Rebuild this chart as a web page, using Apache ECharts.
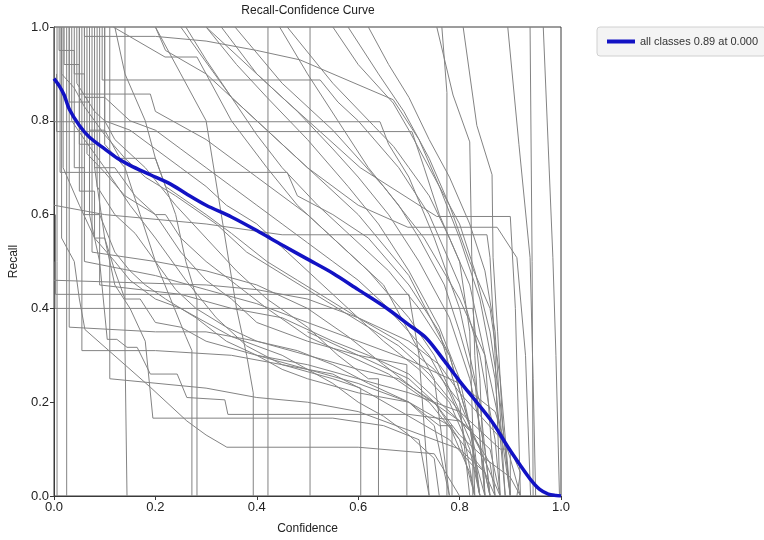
<!DOCTYPE html>
<html><head><meta charset="utf-8">
<script src="https://cdn.jsdelivr.net/npm/echarts@6/dist/echarts.min.js"></script>
<style>html,body{margin:0;padding:0;background:#fff}#c{width:764px;height:540px}</style>
</head><body><div id="c"></div>
<script>
const xTicks = [0, 0.2, 0.4, 0.6, 0.8, 1.0];
const yTicks = [0, 0.2, 0.4, 0.6, 0.8, 1.0];
const allLabel = 'all classes 0.89 at 0.000';
const allClasses = [[0,0.89],[0.01,0.875],[0.02,0.855],[0.03,0.825],[0.05,0.79],[0.07,0.765],[0.1,0.74],[0.125,0.72],[0.15,0.705],[0.19,0.685],[0.23,0.665],[0.26,0.645],[0.3,0.62],[0.35,0.595],[0.4,0.566],[0.45,0.535],[0.5,0.505],[0.55,0.475],[0.6,0.44],[0.65,0.405],[0.7,0.365],[0.735,0.336],[0.77,0.288],[0.8,0.245],[0.835,0.198],[0.866,0.155],[0.895,0.105],[0.92,0.065],[0.94,0.035],[0.958,0.014],[0.975,0.004],[0.99,0.001],[1.0,0.0]];

// per-class curves (confidence, recall)
const c01 = [[0.755,1],[0.787,0.855],[0.79,0.855],[0.82,0.755],[0.824,0.51],[0.83,0.3],[0.84,0.12],[0.85,0]];
const c02 = [[0.765,1],[0.775,0.86],[0.775,0]];
const c03 = [[0.807,1],[0.834,0.79],[0.864,0.685],[0.866,0.508],[0.875,0.35],[0.885,0.15],[0.9,0]];
const c04 = [[0.895,1],[0.917,0.75],[0.939,0.508],[0.945,0.25],[0.95,0]];
const c05 = [[0.939,1],[0.943,0.5],[0.945,0]];
const c06 = [[0.965,1],[0.984,0.508],[0.99,0.3],[0.997,0]];
const c07 = [[0.006,1],[0.006,0.5],[0.006,0]];
const c08 = [[0.025,1],[0.025,0]];
const c09 = [[0.01,1],[0.01,0.95],[0.04,0.95],[0.04,0.9],[0.06,0.9],[0.06,0.85],[0.1,0.85],[0.1,0.8],[0.15,0.78],[0.2,0.74],[0.25,0.7],[0.3,0.66],[0.34,0.62],[0.4,0.58],[0.46,0.52],[0.52,0.46],[0.58,0.4],[0.65,0.33],[0.72,0.27],[0.78,0.2],[0.82,0.1],[0.84,0]];
const c10 = [[0.02,1],[0.02,0.92],[0.05,0.92],[0.05,0.75],[0.08,0.75],[0.08,0.7],[0.12,0.7],[0.16,0.64],[0.2,0.6],[0.22,0.6],[0.25,0.55],[0.3,0.5],[0.36,0.45],[0.42,0.4],[0.5,0.34],[0.58,0.3],[0.66,0.26],[0.74,0.2],[0.8,0.12],[0.83,0]];
const c11 = [[0.03,1],[0.03,0.84],[0.07,0.84],[0.07,0.78],[0.1,0.78],[0.13,0.72],[0.2,0.72],[0.22,0.66],[0.3,0.6],[0.35,0.56],[0.42,0.5],[0.48,0.46],[0.54,0.42],[0.6,0.38],[0.68,0.33],[0.75,0.27],[0.8,0.2],[0.84,0.1],[0.86,0]];
const c12 = [[0.04,1],[0.04,0.7],[0.06,0.7],[0.06,0.6],[0.09,0.6],[0.12,0.52],[0.15,0.48],[0.18,0.45],[0.22,0.42],[0.28,0.38],[0.34,0.33],[0.4,0.3],[0.5,0.27],[0.6,0.24],[0.7,0.2],[0.78,0.15],[0.82,0.05],[0.83,0]];
const c13 = [[0.05,1],[0.05,0.65],[0.08,0.65],[0.08,0.55],[0.1,0.55],[0.12,0.48],[0.14,0.42],[0.17,0.42],[0.2,0.37],[0.25,0.36],[0.3,0.33],[0.4,0.3],[0.45,0.27],[0.5,0.25],[0.6,0.22],[0.7,0.2],[0.76,0.15],[0.785,0.15],[0.785,0]];
const c14 = [[0.015,1],[0.015,0.55],[0.04,0.5],[0.05,0.42],[0.061,0.355],[0.19,0.232],[0.262,0.16],[0.3,0.13],[0.341,0.104],[0.6,0.104],[0.75,0.09],[0.8,0]];
const c15 = [[0.07,1],[0.07,0.6],[0.09,0.5],[0.105,0.334],[0.124,0.334],[0.144,0.317],[0.164,0.317],[0.19,0.26],[0.243,0.26],[0.262,0.21],[0.337,0.205],[0.343,0.174],[0.7,0.174],[0.8,0.16],[0.826,0.14],[0.826,0]];
const c16 = [[0.08,1],[0.08,0.7],[0.1,0.55],[0.12,0.45],[0.15,0.4],[0.18,0.33],[0.183,0.33],[0.195,0.166],[0.55,0.166],[0.65,0.15],[0.72,0.12],[0.74,0]];
const c17 = [[0.1,1],[0.1,0.75],[0.14,0.7],[0.17,0.6],[0.2,0.5],[0.23,0.42],[0.26,0.34],[0.272,0.31],[0.272,0]];
const c18 = [[0.12,1],[0.14,0.9],[0.18,0.8],[0.2,0.72],[0.24,0.6],[0.26,0.5],[0.282,0.42],[0.282,0]];
const c19 = [[0.2,1],[0.25,0.9],[0.3,0.8],[0.33,0.6],[0.36,0.4],[0.38,0.3],[0.393,0.22],[0.393,0]];
const c20 = [[0.422,1],[0.422,0]];
const c21 = [[0.505,1],[0.505,0]];
const c22 = [[0.095,1],[0.095,0.887],[0.525,0.887],[0.56,0.84],[0.6,0.8],[0.68,0.7],[0.74,0.6],[0.8,0.45],[0.84,0.3],[0.87,0.12],[0.88,0]];
const c23 = [[0.0,1],[0.0,0.798],[0.643,0.798],[0.66,0.75],[0.7,0.68],[0.75,0.55],[0.8,0.4],[0.83,0.25],[0.85,0]];
const c24 = [[0.005,0.9],[0.005,0.777],[0.706,0.777],[0.73,0.7],[0.76,0.6],[0.8,0.5],[0.82,0.35],[0.83,0]];
const c25 = [[0.012,1],[0.012,0.69],[0.46,0.69],[0.48,0.64],[0.55,0.6],[0.62,0.55],[0.7,0.45],[0.76,0.35],[0.8,0.2],[0.82,0]];
const c26 = [[0.003,0.6],[0.003,0.43],[0.7,0.43],[0.72,0.3],[0.74,0]];
const c27 = [[0.002,0.5],[0.002,0.40],[0.826,0.40],[0.84,0.25],[0.85,0]];
const c28 = [[0.3,1],[0.45,0.85],[0.604,0.7],[0.755,0.596],[0.9,0.596],[0.91,0.4],[0.92,0]];
const c29 = [[0.05,1],[0.05,0.857],[0.19,0.857],[0.2,0.82],[0.3,0.76],[0.4,0.68],[0.5,0.6],[0.6,0.5],[0.65,0.45],[0.7,0.35],[0.75,0.25],[0.78,0]];
const c30 = [[0.25,1],[0.35,0.85],[0.5,0.7],[0.6,0.62],[0.698,0.573],[0.874,0.573],[0.913,0.508],[0.93,0.3],[0.94,0]];
const c31 = [[0.0,0.62],[0.1,0.6],[0.3,0.58],[0.45,0.557],[0.854,0.557],[0.86,0.508],[0.87,0.3],[0.88,0]];
const c32 = [[0.117,1],[0.219,0.936],[0.282,0.936],[0.3,0.9],[0.4,0.8],[0.5,0.7],[0.6,0.6],[0.7,0.47],[0.78,0.3],[0.82,0.15],[0.84,0]];
const c33 = [[0.3,1],[0.36,0.92],[0.42,0.85],[0.5,0.76],[0.58,0.66],[0.64,0.58],[0.7,0.48],[0.76,0.36],[0.8,0.25],[0.83,0.1],[0.84,0]];
const c34 = [[0.33,1],[0.4,0.9],[0.48,0.82],[0.55,0.74],[0.6,0.68],[0.66,0.6],[0.72,0.5],[0.78,0.38],[0.82,0.25],[0.85,0.1],[0.86,0]];
const c35 = [[0.357,1],[0.45,0.88],[0.55,0.78],[0.65,0.66],[0.73,0.55],[0.8,0.42],[0.85,0.3],[0.88,0.15],[0.9,0]];
const c36 = [[0.445,1],[0.5,0.9],[0.56,0.8],[0.62,0.7],[0.68,0.62],[0.72,0.55],[0.77,0.45],[0.8,0.35],[0.84,0.2],[0.86,0]];
const c37 = [[0.46,1],[0.55,0.88],[0.63,0.79],[0.67,0.745],[0.7,0.7],[0.74,0.64],[0.78,0.55],[0.82,0.45],[0.85,0.3],[0.87,0]];
const c38 = [[0.55,1],[0.6,0.92],[0.669,0.838],[0.7,0.78],[0.75,0.68],[0.8,0.58],[0.83,0.48],[0.86,0.35],[0.88,0.2],[0.9,0]];
const c39 = [[0.58,1],[0.64,0.9],[0.69,0.82],[0.74,0.72],[0.78,0.62],[0.82,0.5],[0.86,0.4],[0.88,0.25],[0.9,0]];
const c40 = [[0.62,1],[0.66,0.92],[0.7,0.85],[0.74,0.76],[0.78,0.68],[0.82,0.58],[0.85,0.48],[0.87,0.35],[0.89,0]];
const c41 = [[0.06,1],[0.06,0.98],[0.2,0.98],[0.3,0.97],[0.4,0.95],[0.485,0.93],[0.669,0.845],[0.72,0.76],[0.76,0.66],[0.8,0.55],[0.84,0.42],[0.87,0.25],[0.89,0]];
const c42 = [[0.2,1],[0.22,0.95],[0.3,0.9],[0.35,0.8],[0.42,0.7],[0.48,0.62],[0.55,0.55],[0.62,0.48],[0.7,0.38],[0.75,0.3],[0.8,0.18],[0.83,0]];
const c43 = [[0.26,1],[0.3,0.93],[0.35,0.85],[0.4,0.77],[0.45,0.7],[0.52,0.62],[0.58,0.56],[0.66,0.48],[0.72,0.4],[0.78,0.3],[0.82,0.15],[0.84,0]];
const c44 = [[0.035,1],[0.035,0.8],[0.06,0.76],[0.1,0.7],[0.15,0.62],[0.2,0.55],[0.26,0.46],[0.32,0.38],[0.38,0.32],[0.45,0.28],[0.55,0.25],[0.605,0.23],[0.605,0]];
const c45 = [[0.045,1],[0.045,0.88],[0.08,0.82],[0.1,0.8],[0.12,0.76],[0.18,0.7],[0.24,0.62],[0.3,0.55],[0.36,0.48],[0.42,0.42],[0.5,0.36],[0.56,0.3],[0.62,0.25],[0.64,0.25],[0.64,0]];
const c46 = [[0.065,1],[0.065,0.73],[0.1,0.69],[0.14,0.64],[0.2,0.6],[0.25,0.52],[0.3,0.46],[0.35,0.42],[0.4,0.37],[0.5,0.33],[0.6,0.3],[0.696,0.28],[0.696,0]];
const c47 = [[0.085,1],[0.085,0.66],[0.12,0.6],[0.16,0.56],[0.2,0.5],[0.24,0.44],[0.28,0.4],[0.34,0.36],[0.4,0.33],[0.48,0.31],[0.55,0.28],[0.62,0.24],[0.7,0.2],[0.75,0.15],[0.78,0]];
const c48 = [[0.018,1],[0.018,0.7],[0.05,0.62],[0.08,0.55],[0.12,0.5],[0.15,0.46],[0.2,0.42],[0.25,0.4],[0.3,0.37],[0.35,0.34],[0.45,0.3],[0.55,0.24],[0.6,0.2],[0.65,0.17],[0.7,0.13],[0.75,0.08],[0.76,0]];
const c49 = [[0.1,1],[0.1,0.85],[0.15,0.8],[0.2,0.78],[0.25,0.74],[0.3,0.7],[0.35,0.66],[0.4,0.62],[0.45,0.58],[0.5,0.54],[0.55,0.5],[0.6,0.46],[0.65,0.41],[0.7,0.35],[0.74,0.3],[0.78,0.22],[0.82,0.12],[0.85,0]];
const c50 = [[0.03,1],[0.03,0.36],[0.2,0.35],[0.3,0.35],[0.4,0.33],[0.5,0.3],[0.6,0.27],[0.68,0.25],[0.75,0.2],[0.8,0.12],[0.85,0.05],[0.86,0]];
const c51 = [[0.055,1],[0.055,0.31],[0.2,0.31],[0.35,0.3],[0.45,0.28],[0.55,0.26],[0.62,0.22],[0.7,0.17],[0.78,0.12],[0.83,0.06],[0.84,0]];
const c52 = [[0.075,1],[0.075,0.52],[0.2,0.5],[0.3,0.48],[0.4,0.45],[0.5,0.4],[0.58,0.34],[0.65,0.28],[0.72,0.22],[0.8,0.16],[0.86,0.1],[0.88,0]];
const c53 = [[0.09,1],[0.09,0.45],[0.25,0.43],[0.35,0.4],[0.45,0.38],[0.55,0.33],[0.62,0.3],[0.7,0.26],[0.76,0.2],[0.82,0.14],[0.86,0.07],[0.87,0]];
const c54 = [[0.11,1],[0.11,0.25],[0.3,0.23],[0.4,0.21],[0.5,0.2],[0.6,0.18],[0.7,0.14],[0.8,0.1],[0.85,0.05],[0.87,0]];
const c55 = [[0.015,1],[0.015,0.9],[0.04,0.87],[0.06,0.83],[0.08,0.8],[0.1,0.77],[0.14,0.72],[0.18,0.68],[0.24,0.64],[0.32,0.58],[0.38,0.52],[0.44,0.48],[0.5,0.44],[0.56,0.4],[0.62,0.36],[0.68,0.32],[0.74,0.26],[0.8,0.18],[0.84,0.1],[0.88,0]];
const c56 = [[0.14,1],[0.14,0.44],[0.14,0.317],[0.144,0]];
const c57 = [[0.0,0.46],[0.3,0.45],[0.4,0.44],[0.5,0.42],[0.6,0.38],[0.7,0.33],[0.76,0.28],[0.8,0.22],[0.9,0.1],[0.92,0.05],[0.913,0]];
const c58 = [[0.06,1],[0.06,0.5],[0.2,0.47],[0.3,0.44],[0.4,0.41],[0.5,0.37],[0.6,0.33],[0.7,0.29],[0.8,0.24],[0.87,0.18],[0.9,0.08],[0.92,0]];
const c59 = [[0.4,0.3],[0.5,0.28],[0.6,0.25],[0.7,0.22],[0.8,0.18],[0.88,0.1],[0.9,0.1],[0.9,0]];
const c60 = [[0.5,0.35],[0.6,0.3],[0.7,0.25],[0.75,0.2],[0.8,0.13],[0.85,0.08],[0.9,0.04],[0.92,0]];

const classCurves = [c01,c02,c03,c04,c05,c06,c07,c08,c09,c10,c11,c12,c13,c14,c15,c16,c17,c18,c19,c20,c21,c22,c23,c24,c25,c26,c27,c28,c29,c30,c31,c32,c33,c34,c35,c36,c37,c38,c39,c40,c41,c42,c43,c44,c45,c46,c47,c48,c49,c50,c51,c52,c53,c54,c55,c56,c57,c58,c59,c60];

const chart = echarts.init(document.getElementById('c'), null, {renderer:'canvas'});
const FONT = 'Liberation Sans, Arial, sans-serif';
const series = classCurves.map((d, i) => ({
  type: 'line', name: 'class' + i, data: d, showSymbol: false, symbol: 'none',
  lineStyle: {color: '#838383', width: 1}, silent: true, z: 1, clip: true
}));
series.push({
  type: 'line', name: allLabel, data: allClasses, showSymbol: false, symbol: 'none', smooth: 0.3,
  lineStyle: {color: '#1212c4', width: 3.5}, itemStyle: {color: '#1212c4'}, z: 5, clip: true
});
chart.setOption({
  animation: false,
  grid: {left: 54, right: 203, top: 27, bottom: 43, show: true, borderColor: '#3a3a3a', borderWidth: 1, backgroundColor: 'transparent'},
  graphic: [{type: 'text', x: 308, y: 5, style: {text: 'Recall-Confidence Curve', font: '12px ' + FONT, fill: '#222', textAlign: 'center'}}],
  legend: {data: [allLabel], left: 597, top: 27, icon: 'rect', itemWidth: 28, itemHeight: 4, itemGap: 6,
    backgroundColor: '#f4f4f4', borderColor: '#d0d0d0', borderWidth: 1, borderRadius: 3, padding: [9, 8, 9, 10],
    textStyle: {fontFamily: FONT, fontSize: 11, color: '#333'}},
  xAxis: {type: 'value', min: 0, max: 1, interval: 0.2,
    name: 'Confidence', nameLocation: 'middle', nameGap: 27, nameTextStyle: {fontFamily: FONT, fontSize: 12, color: '#222'},
    axisLine: {show: true, onZero: false, lineStyle: {color: '#3a3a3a'}}, axisTick: {show: true, length: 4, lineStyle: {color: '#3a3a3a'}},
    axisLabel: {fontFamily: FONT, fontSize: 13, color: '#222', margin: 5, formatter: v => (xTicks.includes(+v.toFixed(1)) ? v.toFixed(1) : '')},
    splitLine: {show: false}},
  yAxis: {type: 'value', min: 0, max: 1, interval: 0.2,
    name: 'Recall', nameLocation: 'middle', nameGap: 31, nameTextStyle: {fontFamily: FONT, fontSize: 12, color: '#222'},
    axisLine: {show: true, onZero: false, lineStyle: {color: '#3a3a3a'}}, axisTick: {show: true, length: 4, lineStyle: {color: '#3a3a3a'}},
    axisLabel: {fontFamily: FONT, fontSize: 13, color: '#222', margin: 5, formatter: v => (yTicks.includes(+v.toFixed(1)) ? v.toFixed(1) : '')},
    splitLine: {show: false}},
  series: series
});
</script></body></html>
